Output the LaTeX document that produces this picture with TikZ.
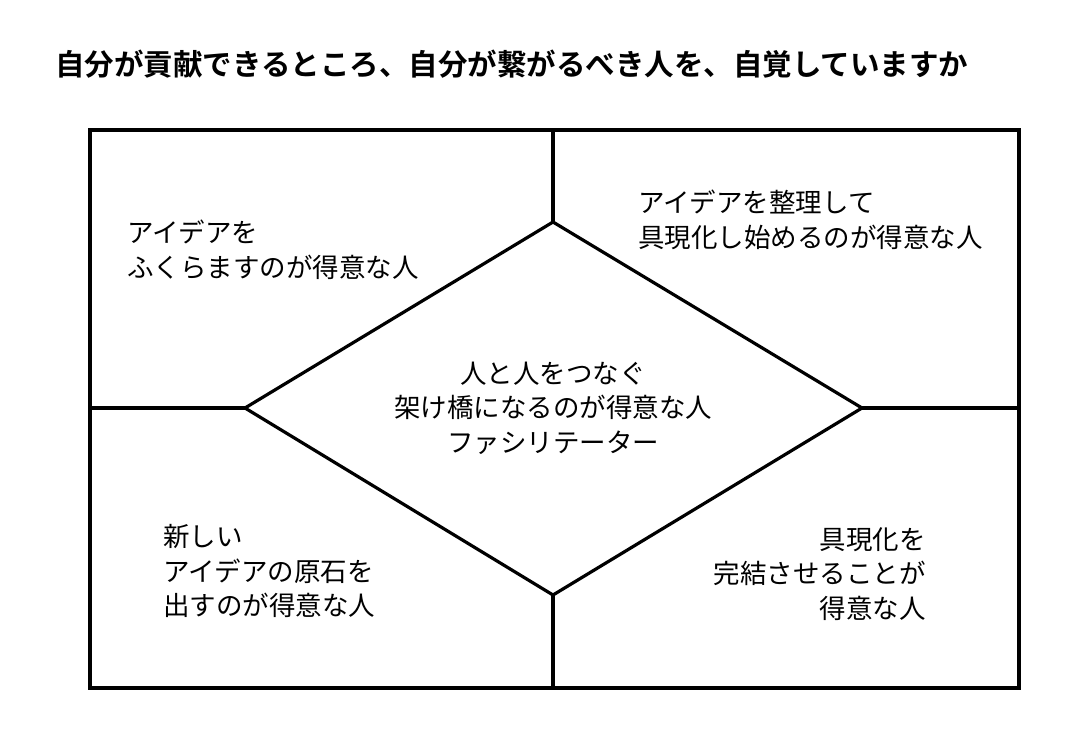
\documentclass[tikz,border=0pt]{standalone}
\usepackage{fontspec}
\newfontfamily\cjk{Noto Sans CJK JP}[BoldFont={* Bold}]
\begin{document}
\begin{tikzpicture}[x=1pt,y=-1pt,
    frame line/.style={line width=3.2pt},
    cell text/.style={font=\cjk\fontsize{26.5}{34.5}\selectfont, inner sep=0pt},
    ]
  \useasboundingbox[fill=white] (0,0) rectangle (1089,749);

  \coordinate (tl) at (90,130);
  \coordinate (br) at (1019,688);
  \coordinate (top) at (553,222);
  \coordinate (left) at (245,408);
  \coordinate (right) at (862,408);
  \coordinate (bottom) at (553,595);

  \node[font=\cjk\bfseries\fontsize{29.5}{34}\selectfont, anchor=west, inner sep=0pt] (title) at (55,64)
    {自分が貢献できるところ、自分が繋がるべき人を、自覚していますか};

  \draw[frame line] (tl) rectangle (br);
  \draw[frame line] (top) -- (right) -- (bottom) -- (left) -- cycle;
  \draw[frame line] (top) -- (553,130);
  \draw[frame line] (bottom) -- (553,688);
  \draw[frame line] (left) -- (90,408);
  \draw[frame line] (right) -- (1019,408);

  \node[cell text, align=left, anchor=west] (idea) at (127,250) {アイデアを\\ふくらますのが得意な人};
  \node[cell text, align=left, anchor=west] (shape) at (638,220) {アイデアを整理して\\具現化し始めるのが得意な人};
  \node[cell text, align=center] (facil) at (553,408) {人と人をつなぐ\\架け橋になるのが得意な人\\ファシリテーター};
  \node[cell text, align=left, anchor=west] (seed) at (163,571) {新しい\\アイデアの原石を\\出すのが得意な人};
  \node[cell text, align=right, anchor=east] (finish) at (926,574) {具現化を\\完結させることが\\得意な人};
\end{tikzpicture}
\end{document}
